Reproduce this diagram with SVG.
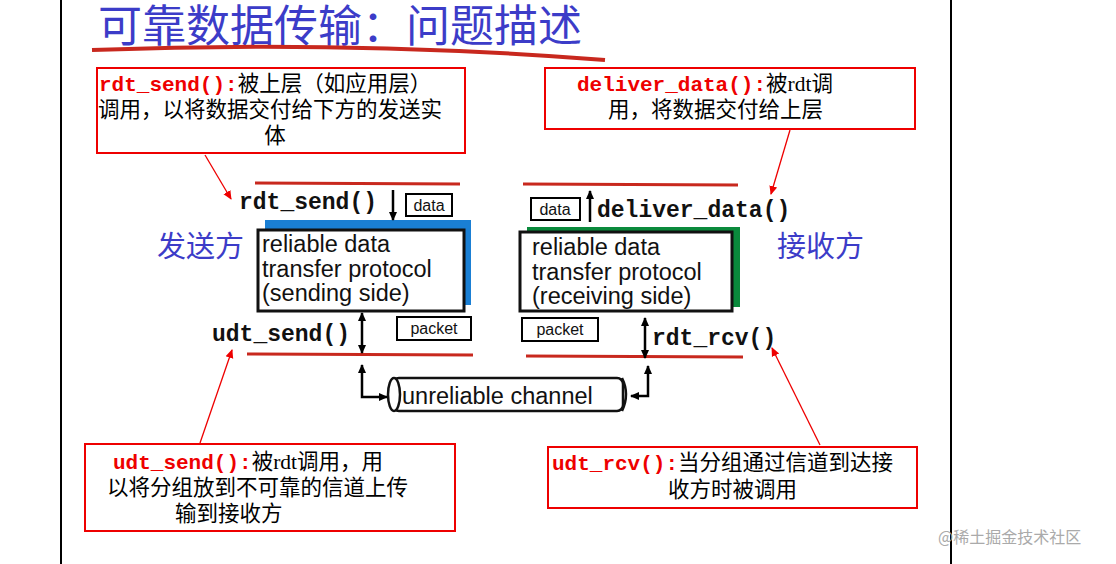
<svg xmlns="http://www.w3.org/2000/svg" width="1116" height="564" viewBox="0 0 1116 564">
<defs>
<marker id="ab" markerWidth="10" markerHeight="10" refX="8" refY="5" orient="auto" markerUnits="userSpaceOnUse"><path d="M0,1 L9,5 L0,9 Z" fill="#000"/></marker>
<marker id="ar" markerWidth="10" markerHeight="10" refX="8" refY="5" orient="auto" markerUnits="userSpaceOnUse"><path d="M0,1 L9,5 L0,9 Z" fill="#e00"/></marker>
</defs>
<style>
.cn{font-family:"Liberation Serif","Noto Sans CJK SC",serif;font-size:21.5px;fill:#000}
.rf{font-family:"Liberation Mono",monospace;font-weight:bold;fill:#e00;font-size:21px}
.mono{font-family:"Liberation Mono",monospace;font-weight:bold;font-size:23px;fill:#111}
.sans{font-family:"Liberation Sans",sans-serif;font-size:23.5px;fill:#111}
.sm{font-family:"Liberation Sans",sans-serif;font-size:16px;fill:#111}
.note{fill:#fff;stroke:#e00;stroke-width:2}
.rl{stroke:#c8281e;stroke-width:3}
.ln{stroke:#000;stroke-width:2.5;fill:none}
.rr{stroke:#e00;stroke-width:1.3}
.lb{fill:#fff;stroke:#000;stroke-width:2}
</style>
<rect width="1116" height="564" fill="#fff"/>
<line x1="61" y1="0" x2="61" y2="564" stroke="#000" stroke-width="2"/>
<line x1="951" y1="0" x2="951" y2="564" stroke="#000" stroke-width="2"/>
<text x="98" y="42" font-family="Liberation Serif,'Noto Sans CJK SC',serif" font-size="44" fill="#3c3cc8">可靠数据传输：问题描述</text>
<path d="M92,50 Q350,40 605,60" stroke="#c8281e" stroke-width="4" fill="none"/>
<g id="note1"><rect class="note" x="97" y="68" width="368" height="85"/>
<text x="99" y="91" class="cn"><tspan class="rf">rdt_send():</tspan>被上层（如应用层）</text>
<text x="98" y="117" class="cn">调用，以将数据交付给下方的发送实</text>
<text x="275" y="143" class="cn" text-anchor="middle">体</text></g>
<g id="note2"><rect class="note" x="545" y="68" width="370" height="61"/>
<text x="577" y="91" class="cn"><tspan class="rf">deliver_data():</tspan>被rdt调</text>
<text x="608" y="117" class="cn">用，将数据交付给上层</text></g>
<g id="note3"><rect class="note" x="85" y="444" width="370" height="87"/>
<text x="113" y="469" class="cn"><tspan class="rf">udt_send():</tspan>被rdt调用，用</text>
<text x="107" y="495" class="cn">以将分组放到不可靠的信道上传</text>
<text x="175" y="521" class="cn">输到接收方</text></g>
<g id="note4"><rect class="note" x="548" y="447" width="369" height="61"/>
<text x="552" y="470" class="cn"><tspan class="rf">udt_rcv():</tspan>当分组通过信道到达接</text>
<text x="668" y="497" class="cn">收方时被调用</text></g>
<g id="sender">
<rect x="265" y="220" width="206" height="85" fill="#1a7fd4"/>
<rect x="258" y="230" width="206" height="81" fill="#fff" stroke="#111" stroke-width="3"/>
<text x="262" y="252" class="sans">reliable data</text>
<text x="262" y="277" class="sans">transfer protocol</text>
<text x="262" y="301" class="sans">(sending side)</text>
<text x="157" y="257" font-family="Liberation Serif,'Noto Sans CJK SC',serif" font-size="29" fill="#3c3cc8">发送方</text>
</g>
<g id="receiver">
<rect x="527" y="227" width="213" height="80" fill="#0a8a3c"/>
<rect x="520" y="232" width="212" height="79" fill="#fff" stroke="#111" stroke-width="3"/>
<text x="532" y="255" class="sans">reliable data</text>
<text x="532" y="280" class="sans">transfer protocol</text>
<text x="532" y="304" class="sans">(receiving side)</text>
<text x="777" y="257" font-family="Liberation Serif,'Noto Sans CJK SC',serif" font-size="29" fill="#3c3cc8">接收方</text>
</g>
<g id="labels">
<line class="rl" x1="255" y1="183" x2="460" y2="184"/>
<line class="rl" x1="523" y1="184" x2="738" y2="185"/>
<line class="rl" x1="247" y1="354" x2="473" y2="355"/>
<line class="rl" x1="526" y1="356" x2="743" y2="357"/>
<text x="239" y="209" class="mono">rdt_send()</text>
<text x="597" y="217" class="mono">deliver_data()</text>
<text x="212" y="341" class="mono">udt_send()</text>
<text x="652" y="345" class="mono">rdt_rcv()</text>
<rect class="lb" x="406" y="194" width="46" height="22"/><text x="429" y="211" class="sm" text-anchor="middle">data</text>
<rect class="lb" x="531" y="198" width="49" height="22"/><text x="555" y="215" class="sm" text-anchor="middle">data</text>
<rect class="lb" x="397" y="317" width="74" height="23"/><text x="434" y="334" class="sm" text-anchor="middle">packet</text>
<rect class="lb" x="522" y="318" width="76" height="23"/><text x="560" y="335" class="sm" text-anchor="middle">packet</text>
<g id="channel">
<rect x="393" y="378" width="230" height="33" rx="6" fill="#fff" stroke="#111" stroke-width="2.5"/>
<ellipse cx="394" cy="394.5" rx="6" ry="16.5" fill="#fff" stroke="#111" stroke-width="2.5"/>
<path d="M622,378 Q630,394 622,411" fill="none" stroke="#111" stroke-width="2.5"/>
<text x="402" y="404" class="sans">unreliable channel</text>
</g>
</g>
<g id="connectors">
<line class="ln" x1="393" y1="190" x2="393" y2="220" marker-end="url(#ab)"/>
<line class="ln" x1="590" y1="222" x2="590" y2="191" marker-end="url(#ab)"/>
<line class="ln" x1="362" y1="330" x2="362" y2="313" marker-end="url(#ab)"/>
<line class="ln" x1="362" y1="330" x2="362" y2="353" marker-end="url(#ab)"/>
<line class="ln" x1="645" y1="338" x2="645" y2="318" marker-end="url(#ab)"/>
<line class="ln" x1="645" y1="338" x2="645" y2="358" marker-end="url(#ab)"/>
<path class="ln" d="M362,380 L362,365" marker-end="url(#ab)"/>
<path class="ln" d="M362,380 L362,397 L387,397" marker-end="url(#ab)"/>
<path class="ln" d="M648,380 L648,366" marker-end="url(#ab)"/>
<path class="ln" d="M648,380 L648,396 L631,396" marker-end="url(#ab)"/>
<line class="rr" x1="205" y1="155" x2="231" y2="199" marker-end="url(#ar)"/>
<line class="rr" x1="790" y1="130" x2="771" y2="194" marker-end="url(#ar)"/>
<line class="rr" x1="200" y1="443" x2="232" y2="350" marker-end="url(#ar)"/>
<line class="rr" x1="820" y1="445" x2="772" y2="348" marker-end="url(#ar)"/>
</g>
<text x="938" y="543" font-family="'Noto Sans CJK SC',sans-serif" font-size="16" fill="#aaa">@稀土掘金技术社区</text>
</svg>
